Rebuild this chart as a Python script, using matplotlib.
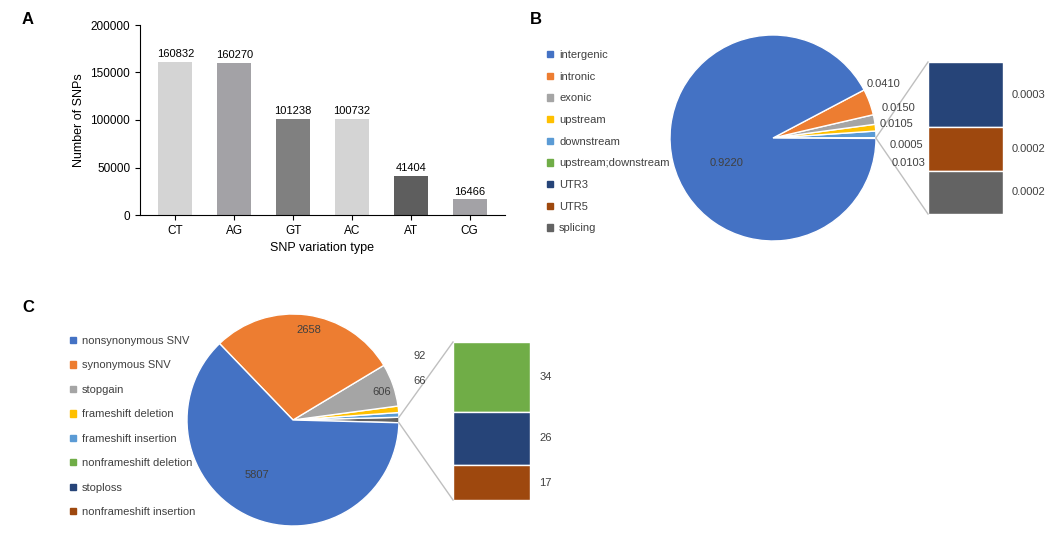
import numpy as np
import matplotlib.pyplot as plt
from matplotlib.patches import Patch
from matplotlib.lines import Line2D

# Panel A
snp_types = ['CT', 'AG', 'GT', 'AC', 'AT', 'CG']
snp_counts = [160832, 160270, 101238, 100732, 41404, 16466]
bar_colors = ['#d4d4d4', '#a3a2a6', '#808080', '#d4d4d4', '#5e5e5e', '#a3a2a6']

# Panel B
b_labels = ['intergenic', 'intronic', 'exonic', 'upstream', 'downstream',
            'upstream;downstream', 'UTR3', 'UTR5', 'splicing']
b_main = [0.9220, 0.0410, 0.0150, 0.0105, 0.0103, 0.0005]
b_other = [0.0003, 0.0002, 0.0002]
b_colors = ['#4472c4', '#ed7d31', '#a5a5a5', '#ffc000', '#5b9bd5', '#70ad47',
            '#264478', '#9e480e', '#636363']

# Panel C
c_labels = ['nonsynonymous SNV', 'synonymous SNV', 'stopgain', 'frameshift deletion',
            'frameshift insertion', 'nonframeshift deletion', 'stoploss',
            'nonframeshift insertion']
c_main = [5807, 2658, 606, 92, 66]
c_other = [34, 26, 17]
c_colors = ['#4472c4', '#ed7d31', '#a5a5a5', '#ffc000', '#5b9bd5', '#70ad47',
            '#264478', '#9e480e']

W, H = 1051, 538
fig = plt.figure(figsize=(W / 100, H / 100), dpi=100)
plt.rcParams['font.family'] = 'Liberation Sans'


def box(x0, y0, x1, y1):
    return [x0 / W, 1 - y1 / H, (x1 - x0) / W, (y1 - y0) / H]


def fp(x, y):
    return (x / W, 1 - y / H)


# ── A ──
ax = fig.add_axes(box(140, 25, 505, 215))
xs = np.arange(len(snp_types))
ax.bar(xs, snp_counts, color=bar_colors, width=0.58)
for x, v in zip(xs, snp_counts):
    ax.text(x, v + 3000, str(v), ha='center', va='bottom', fontsize=8)
ax.set_xticks(xs)
ax.set_xticklabels(snp_types, fontsize=8.5)
ax.set_ylim(0, 200000)
ax.set_yticks(range(0, 200001, 50000))
ax.tick_params(labelsize=8.5)
ax.set_xlim(-0.6, 5.6)
ax.set_xlabel('SNP variation type', fontsize=9)
ax.set_ylabel('Number of SNPs', fontsize=9)
for s in ['top', 'right']:
    ax.spines[s].set_visible(False)
fig.text(*fp(22, 20), 'A', fontsize=12, fontweight='bold', va='center')
fig.text(*fp(530, 20), 'B', fontsize=12, fontweight='bold', va='center')
fig.text(*fp(22, 307), 'C', fontsize=12, fontweight='bold', va='center')


def pie_of_pie(cx, cy, R, main, other, colors, bx0, by0, bx1, by1, fmt, labelpos):
    vals = list(main) + [sum(other)]
    cols = list(colors[:len(main)]) + ['#636363']
    total = sum(vals)
    oth_ang = 360 * vals[-1] / total
    # order counter-clockwise from the right: other, then main reversed
    order = [len(vals) - 1] + list(range(len(main) - 1, -1, -1))
    pax = fig.add_axes(box(cx - R, cy - R, cx + R, cy + R))
    pax.pie([vals[i] for i in order], colors=[cols[i] for i in order],
            startangle=-oth_ang / 2 if oth_ang > 2 else -oth_ang,
            counterclock=True, radius=1,
            wedgeprops=dict(edgecolor='white', linewidth=1))
    pax.set_xlim(-1, 1)
    pax.set_ylim(-1, 1)
    pax.axis('off')
    # stacked bar
    bax = fig.add_axes(box(bx0, by0, bx1, by1))
    s = sum(other)
    bottom = s
    for v, c in zip(other, colors[-len(other):]):
        bottom -= v
        bax.bar(0, v, bottom=bottom, color=c, width=1, edgecolor='white', linewidth=1)
        bax.text(0.62, bottom + v / 2, fmt(v), va='center', fontsize=8, color='#404040')
    bax.set_xlim(-0.5, 0.5)
    bax.set_ylim(0, s)
    bax.axis('off')
    # connectors
    for ang, by in [(oth_ang / 2, by0), (-oth_ang / 2, by1)]:
        px = cx + R * np.cos(np.radians(ang))
        py = cy - R * np.sin(np.radians(ang))
        fig.add_artist(Line2D([px / W, bx0 / W], [1 - py / H, 1 - by / H],
                              color='#bfbfbf', lw=1))
    for (x, y), v in zip(labelpos, main):
        fig.text(*fp(x, y), fmt(v), fontsize=8, color='#404040', va='center')


pie_of_pie(773, 138, 103, b_main, b_other, b_colors, 928, 62, 1003, 214,
           lambda v: f'{v:.4f}',
           [(710, 163), (867, 84), (882, 108), (880, 124), (892, 163), (890, 145)])
pie_of_pie(293, 420, 106, c_main, c_other, c_colors, 453, 342, 530, 500,
           lambda v: f'{int(v)}',
           [(245, 475), (296, 330), (372, 392), (414, 356), (413, 381)])


def legend(labels, colors, x, y, sp):
    handles = [Patch(color=c, label=l) for l, c in zip(labels, colors)]
    fig.legend(handles=handles, loc='upper left', bbox_to_anchor=fp(x, y),
               frameon=False, fontsize=8, handlelength=0.5, handleheight=0.5,
               handletextpad=0.6, labelspacing=sp, labelcolor='#404040')


legend(b_labels, b_colors, 537, 40, 1.05)
legend(c_labels, c_colors, 60, 326, 1.3)

fig.savefig('out.png', dpi=100)
